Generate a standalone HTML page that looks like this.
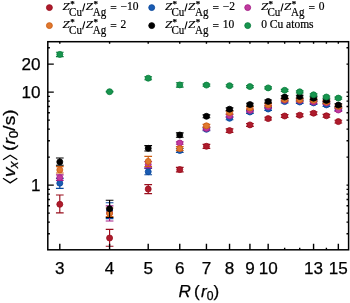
<!DOCTYPE html>
<html><head><meta charset="utf-8"><title>chart</title>
<style>html,body{margin:0;padding:0;background:#fff;}svg{display:block;}text{font-family:"Liberation Sans", sans-serif;fill:#000;stroke:#000;stroke-width:0.25px;}text.se{font-family:"Liberation Serif", serif;stroke-width:0.2px;}</style>
</head><body><div style="will-change:transform;width:350px;height:303px;background:#fff">
<svg width="350" height="303" viewBox="0 0 350 303">
<rect width="350" height="303" fill="#fff"/>
<circle cx="49.40" cy="7.60" r="2.95" fill="#ae1b2c" stroke="#990e1d" stroke-width="0.9"/>
<text transform="translate(62.60,10.00) scale(1.2,1)" class="se" style="font-size:10.8px;font-style:italic">Z</text>
<text x="70.30" y="7.30" class="se" style="font-size:9px;font-weight:bold">*</text>
<text transform="translate(69.10,15.90) scale(0.92,1)" class="se" style="font-size:12px">Cu</text>
<line x1="84.80" y1="3.40" x2="82.60" y2="11.30" stroke="#000" stroke-width="1.1"/>
<text transform="translate(85.70,10.00) scale(1.2,1)" class="se" style="font-size:10.8px;font-style:italic">Z</text>
<text x="93.40" y="7.30" class="se" style="font-size:9px;font-weight:bold">*</text>
<text transform="translate(92.70,15.90) scale(0.92,1)" class="se" style="font-size:12px">Ag</text>
<text x="110.20" y="11.90" class="se" style="font-size:11.5px">=</text>
<text x="120.40" y="10.20" class="se" style="font-size:11.5px">−10</text>
<circle cx="151.70" cy="7.60" r="2.95" fill="#1a5cb3" stroke="#0a489c" stroke-width="0.9"/>
<text transform="translate(164.90,10.00) scale(1.2,1)" class="se" style="font-size:10.8px;font-style:italic">Z</text>
<text x="172.60" y="7.30" class="se" style="font-size:9px;font-weight:bold">*</text>
<text transform="translate(171.40,15.90) scale(0.92,1)" class="se" style="font-size:12px">Cu</text>
<line x1="187.10" y1="3.40" x2="184.90" y2="11.30" stroke="#000" stroke-width="1.1"/>
<text transform="translate(188.00,10.00) scale(1.2,1)" class="se" style="font-size:10.8px;font-style:italic">Z</text>
<text x="195.70" y="7.30" class="se" style="font-size:9px;font-weight:bold">*</text>
<text transform="translate(195.00,15.90) scale(0.92,1)" class="se" style="font-size:12px">Ag</text>
<text x="212.50" y="11.90" class="se" style="font-size:11.5px">=</text>
<text x="222.70" y="10.20" class="se" style="font-size:11.5px">−2</text>
<circle cx="247.70" cy="7.60" r="2.95" fill="#c13a9f" stroke="#a31e86" stroke-width="0.9"/>
<text transform="translate(260.90,10.00) scale(1.2,1)" class="se" style="font-size:10.8px;font-style:italic">Z</text>
<text x="268.60" y="7.30" class="se" style="font-size:9px;font-weight:bold">*</text>
<text transform="translate(267.40,15.90) scale(0.92,1)" class="se" style="font-size:12px">Cu</text>
<line x1="283.10" y1="3.40" x2="280.90" y2="11.30" stroke="#000" stroke-width="1.1"/>
<text transform="translate(284.00,10.00) scale(1.2,1)" class="se" style="font-size:10.8px;font-style:italic">Z</text>
<text x="291.70" y="7.30" class="se" style="font-size:9px;font-weight:bold">*</text>
<text transform="translate(291.00,15.90) scale(0.92,1)" class="se" style="font-size:12px">Ag</text>
<text x="308.50" y="11.90" class="se" style="font-size:11.5px">=</text>
<text x="318.70" y="10.20" class="se" style="font-size:11.5px">0</text>
<circle cx="49.40" cy="25.60" r="2.95" fill="#e0782e" stroke="#cc5e14" stroke-width="0.9"/>
<text transform="translate(62.60,28.00) scale(1.2,1)" class="se" style="font-size:10.8px;font-style:italic">Z</text>
<text x="70.30" y="25.30" class="se" style="font-size:9px;font-weight:bold">*</text>
<text transform="translate(69.10,33.90) scale(0.92,1)" class="se" style="font-size:12px">Cu</text>
<line x1="84.80" y1="21.40" x2="82.60" y2="29.30" stroke="#000" stroke-width="1.1"/>
<text transform="translate(85.70,28.00) scale(1.2,1)" class="se" style="font-size:10.8px;font-style:italic">Z</text>
<text x="93.40" y="25.30" class="se" style="font-size:9px;font-weight:bold">*</text>
<text transform="translate(92.70,33.90) scale(0.92,1)" class="se" style="font-size:12px">Ag</text>
<text x="110.20" y="29.90" class="se" style="font-size:11.5px">=</text>
<text x="120.40" y="28.20" class="se" style="font-size:11.5px">2</text>
<circle cx="151.70" cy="25.60" r="2.95" fill="#000" stroke="#000" stroke-width="0.9"/>
<text transform="translate(164.90,28.00) scale(1.2,1)" class="se" style="font-size:10.8px;font-style:italic">Z</text>
<text x="172.60" y="25.30" class="se" style="font-size:9px;font-weight:bold">*</text>
<text transform="translate(171.40,33.90) scale(0.92,1)" class="se" style="font-size:12px">Cu</text>
<line x1="187.10" y1="21.40" x2="184.90" y2="29.30" stroke="#000" stroke-width="1.1"/>
<text transform="translate(188.00,28.00) scale(1.2,1)" class="se" style="font-size:10.8px;font-style:italic">Z</text>
<text x="195.70" y="25.30" class="se" style="font-size:9px;font-weight:bold">*</text>
<text transform="translate(195.00,33.90) scale(0.92,1)" class="se" style="font-size:12px">Ag</text>
<text x="212.50" y="29.90" class="se" style="font-size:11.5px">=</text>
<text x="222.70" y="28.20" class="se" style="font-size:11.5px">10</text>
<circle cx="247.70" cy="25.60" r="2.95" fill="#18954f" stroke="#0a7d3c" stroke-width="0.9"/>
<text x="261.20" y="27.80" class="se" style="font-size:11.5px">0 Cu atoms</text>
<path d="M59.80 195.00V212.90M55.95 195.00H63.65M55.95 212.90H63.65" stroke="#990e1d" stroke-width="1.15" fill="none"/>
<circle cx="59.80" cy="204.30" r="3.0" fill="#ae1b2c" stroke="#990e1d" stroke-width="0.8"/>
<path d="M109.59 229.30V246.20M105.74 229.30H113.44M105.74 246.20H113.44" stroke="#990e1d" stroke-width="1.15" fill="none"/>
<circle cx="109.59" cy="238.00" r="3.0" fill="#ae1b2c" stroke="#990e1d" stroke-width="0.8"/>
<path d="M148.21 184.60V193.60M144.36 184.60H152.06M144.36 193.60H152.06" stroke="#990e1d" stroke-width="1.15" fill="none"/>
<circle cx="148.21" cy="189.10" r="3.0" fill="#ae1b2c" stroke="#990e1d" stroke-width="0.8"/>
<path d="M179.76 167.30V171.90M175.91 167.30H183.61M175.91 171.90H183.61" stroke="#990e1d" stroke-width="1.15" fill="none"/>
<circle cx="179.76" cy="169.60" r="3.0" fill="#ae1b2c" stroke="#990e1d" stroke-width="0.8"/>
<path d="M206.44 144.30V148.30M202.59 144.30H210.29M202.59 148.30H210.29" stroke="#990e1d" stroke-width="1.15" fill="none"/>
<circle cx="206.44" cy="146.30" r="3.0" fill="#ae1b2c" stroke="#990e1d" stroke-width="0.8"/>
<path d="M229.55 128.90V132.30M225.70 128.90H233.40M225.70 132.30H233.40" stroke="#990e1d" stroke-width="1.15" fill="none"/>
<circle cx="229.55" cy="130.60" r="3.0" fill="#ae1b2c" stroke="#990e1d" stroke-width="0.8"/>
<path d="M249.93 123.50V126.30M246.08 123.50H253.78M246.08 126.30H253.78" stroke="#990e1d" stroke-width="1.15" fill="none"/>
<circle cx="249.93" cy="124.90" r="3.0" fill="#ae1b2c" stroke="#990e1d" stroke-width="0.8"/>
<path d="M268.17 117.20V120.00M264.32 117.20H272.02M264.32 120.00H272.02" stroke="#990e1d" stroke-width="1.15" fill="none"/>
<circle cx="268.17" cy="118.60" r="3.0" fill="#ae1b2c" stroke="#990e1d" stroke-width="0.8"/>
<path d="M284.66 114.60V117.40M280.81 114.60H288.51M280.81 117.40H288.51" stroke="#990e1d" stroke-width="1.15" fill="none"/>
<circle cx="284.66" cy="116.00" r="3.0" fill="#ae1b2c" stroke="#990e1d" stroke-width="0.8"/>
<path d="M299.72 113.80V116.60M295.87 113.80H303.57M295.87 116.60H303.57" stroke="#990e1d" stroke-width="1.15" fill="none"/>
<circle cx="299.72" cy="115.20" r="3.0" fill="#ae1b2c" stroke="#990e1d" stroke-width="0.8"/>
<path d="M313.57 111.80V114.60M309.72 111.80H317.42M309.72 114.60H317.42" stroke="#990e1d" stroke-width="1.15" fill="none"/>
<circle cx="313.57" cy="113.20" r="3.0" fill="#ae1b2c" stroke="#990e1d" stroke-width="0.8"/>
<path d="M326.40 114.40V117.20M322.55 114.40H330.25M322.55 117.20H330.25" stroke="#990e1d" stroke-width="1.15" fill="none"/>
<circle cx="326.40" cy="115.80" r="3.0" fill="#ae1b2c" stroke="#990e1d" stroke-width="0.8"/>
<path d="M338.34 120.20V123.00M334.49 120.20H342.19M334.49 123.00H342.19" stroke="#990e1d" stroke-width="1.15" fill="none"/>
<circle cx="338.34" cy="121.60" r="3.0" fill="#ae1b2c" stroke="#990e1d" stroke-width="0.8"/>
<path d="M59.80 178.30V188.30M55.95 178.30H63.65M55.95 188.30H63.65" stroke="#0a489c" stroke-width="1.15" fill="none"/>
<circle cx="59.80" cy="183.20" r="3.0" fill="#1a5cb3" stroke="#0a489c" stroke-width="0.8"/>
<path d="M109.59 202.70V218.60M105.74 202.70H113.44M105.74 218.60H113.44" stroke="#0a489c" stroke-width="1.15" fill="none"/>
<circle cx="109.59" cy="210.20" r="3.0" fill="#1a5cb3" stroke="#0a489c" stroke-width="0.8"/>
<path d="M148.21 168.30V174.70M144.36 168.30H152.06M144.36 174.70H152.06" stroke="#0a489c" stroke-width="1.15" fill="none"/>
<circle cx="148.21" cy="171.70" r="3.0" fill="#1a5cb3" stroke="#0a489c" stroke-width="0.8"/>
<path d="M179.76 148.50V152.50M175.91 148.50H183.61M175.91 152.50H183.61" stroke="#0a489c" stroke-width="1.15" fill="none"/>
<circle cx="179.76" cy="150.50" r="3.0" fill="#1a5cb3" stroke="#0a489c" stroke-width="0.8"/>
<path d="M206.44 127.90V130.70M202.59 127.90H210.29M202.59 130.70H210.29" stroke="#0a489c" stroke-width="1.15" fill="none"/>
<circle cx="206.44" cy="129.30" r="3.0" fill="#1a5cb3" stroke="#0a489c" stroke-width="0.8"/>
<path d="M229.55 116.90V119.70M225.70 116.90H233.40M225.70 119.70H233.40" stroke="#0a489c" stroke-width="1.15" fill="none"/>
<circle cx="229.55" cy="118.30" r="3.0" fill="#1a5cb3" stroke="#0a489c" stroke-width="0.8"/>
<path d="M249.93 110.60V113.40M246.08 110.60H253.78M246.08 113.40H253.78" stroke="#0a489c" stroke-width="1.15" fill="none"/>
<circle cx="249.93" cy="112.00" r="3.0" fill="#1a5cb3" stroke="#0a489c" stroke-width="0.8"/>
<path d="M268.17 107.60V110.40M264.32 107.60H272.02M264.32 110.40H272.02" stroke="#0a489c" stroke-width="1.15" fill="none"/>
<circle cx="268.17" cy="109.00" r="3.0" fill="#1a5cb3" stroke="#0a489c" stroke-width="0.8"/>
<path d="M284.66 100.20V103.00M280.81 100.20H288.51M280.81 103.00H288.51" stroke="#0a489c" stroke-width="1.15" fill="none"/>
<circle cx="284.66" cy="101.60" r="3.0" fill="#1a5cb3" stroke="#0a489c" stroke-width="0.8"/>
<path d="M299.72 100.60V103.40M295.87 100.60H303.57M295.87 103.40H303.57" stroke="#0a489c" stroke-width="1.15" fill="none"/>
<circle cx="299.72" cy="102.00" r="3.0" fill="#1a5cb3" stroke="#0a489c" stroke-width="0.8"/>
<path d="M313.57 101.50V104.30M309.72 101.50H317.42M309.72 104.30H317.42" stroke="#0a489c" stroke-width="1.15" fill="none"/>
<circle cx="313.57" cy="102.90" r="3.0" fill="#1a5cb3" stroke="#0a489c" stroke-width="0.8"/>
<path d="M326.40 103.50V106.30M322.55 103.50H330.25M322.55 106.30H330.25" stroke="#0a489c" stroke-width="1.15" fill="none"/>
<circle cx="326.40" cy="104.90" r="3.0" fill="#1a5cb3" stroke="#0a489c" stroke-width="0.8"/>
<path d="M338.34 107.60V110.40M334.49 107.60H342.19M334.49 110.40H342.19" stroke="#0a489c" stroke-width="1.15" fill="none"/>
<circle cx="338.34" cy="109.00" r="3.0" fill="#1a5cb3" stroke="#0a489c" stroke-width="0.8"/>
<path d="M59.80 174.80V180.40M55.95 174.80H63.65M55.95 180.40H63.65" stroke="#a31e86" stroke-width="1.15" fill="none"/>
<circle cx="59.80" cy="177.70" r="3.0" fill="#c13a9f" stroke="#a31e86" stroke-width="0.8"/>
<path d="M109.59 205.90V221.00M105.74 205.90H113.44M105.74 221.00H113.44" stroke="#a31e86" stroke-width="1.15" fill="none"/>
<circle cx="109.59" cy="213.00" r="3.0" fill="#c13a9f" stroke="#a31e86" stroke-width="0.8"/>
<path d="M148.21 161.60V167.80M144.36 161.60H152.06M144.36 167.80H152.06" stroke="#a31e86" stroke-width="1.15" fill="none"/>
<circle cx="148.21" cy="164.60" r="3.0" fill="#c13a9f" stroke="#a31e86" stroke-width="0.8"/>
<path d="M179.76 141.80V144.20M175.91 141.80H183.61M175.91 144.20H183.61" stroke="#a31e86" stroke-width="1.15" fill="none"/>
<circle cx="179.76" cy="143.00" r="3.0" fill="#c13a9f" stroke="#a31e86" stroke-width="0.8"/>
<path d="M206.44 127.00V129.80M202.59 127.00H210.29M202.59 129.80H210.29" stroke="#a31e86" stroke-width="1.15" fill="none"/>
<circle cx="206.44" cy="128.40" r="3.0" fill="#c13a9f" stroke="#a31e86" stroke-width="0.8"/>
<path d="M229.55 114.40V117.20M225.70 114.40H233.40M225.70 117.20H233.40" stroke="#a31e86" stroke-width="1.15" fill="none"/>
<circle cx="229.55" cy="115.80" r="3.0" fill="#c13a9f" stroke="#a31e86" stroke-width="0.8"/>
<path d="M249.93 109.00V111.80M246.08 109.00H253.78M246.08 111.80H253.78" stroke="#a31e86" stroke-width="1.15" fill="none"/>
<circle cx="249.93" cy="110.40" r="3.0" fill="#c13a9f" stroke="#a31e86" stroke-width="0.8"/>
<path d="M268.17 105.40V108.20M264.32 105.40H272.02M264.32 108.20H272.02" stroke="#a31e86" stroke-width="1.15" fill="none"/>
<circle cx="268.17" cy="106.80" r="3.0" fill="#c13a9f" stroke="#a31e86" stroke-width="0.8"/>
<path d="M284.66 98.90V101.70M280.81 98.90H288.51M280.81 101.70H288.51" stroke="#a31e86" stroke-width="1.15" fill="none"/>
<circle cx="284.66" cy="100.30" r="3.0" fill="#c13a9f" stroke="#a31e86" stroke-width="0.8"/>
<path d="M299.72 99.20V102.00M295.87 99.20H303.57M295.87 102.00H303.57" stroke="#a31e86" stroke-width="1.15" fill="none"/>
<circle cx="299.72" cy="100.60" r="3.0" fill="#c13a9f" stroke="#a31e86" stroke-width="0.8"/>
<path d="M313.57 100.60V103.40M309.72 100.60H317.42M309.72 103.40H317.42" stroke="#a31e86" stroke-width="1.15" fill="none"/>
<circle cx="313.57" cy="102.00" r="3.0" fill="#c13a9f" stroke="#a31e86" stroke-width="0.8"/>
<path d="M326.40 101.60V104.40M322.55 101.60H330.25M322.55 104.40H330.25" stroke="#a31e86" stroke-width="1.15" fill="none"/>
<circle cx="326.40" cy="103.00" r="3.0" fill="#c13a9f" stroke="#a31e86" stroke-width="0.8"/>
<path d="M338.34 108.60V111.40M334.49 108.60H342.19M334.49 111.40H342.19" stroke="#a31e86" stroke-width="1.15" fill="none"/>
<circle cx="338.34" cy="110.00" r="3.0" fill="#c13a9f" stroke="#a31e86" stroke-width="0.8"/>
<path d="M59.80 166.60V173.00M55.95 166.60H63.65M55.95 173.00H63.65" stroke="#cc5e14" stroke-width="1.15" fill="none"/>
<circle cx="59.80" cy="169.90" r="3.0" fill="#e0782e" stroke="#cc5e14" stroke-width="0.8"/>
<path d="M109.59 208.00V216.60M105.74 208.00H113.44M105.74 216.60H113.44" stroke="#cc5e14" stroke-width="1.15" fill="none"/>
<circle cx="109.59" cy="213.30" r="3.0" fill="#e0782e" stroke="#cc5e14" stroke-width="0.8"/>
<path d="M148.21 156.30V166.50M144.36 156.30H152.06M144.36 166.50H152.06" stroke="#cc5e14" stroke-width="1.15" fill="none"/>
<circle cx="148.21" cy="161.40" r="3.0" fill="#e0782e" stroke="#cc5e14" stroke-width="0.8"/>
<path d="M179.76 146.60V150.60M175.91 146.60H183.61M175.91 150.60H183.61" stroke="#cc5e14" stroke-width="1.15" fill="none"/>
<circle cx="179.76" cy="148.60" r="3.0" fill="#e0782e" stroke="#cc5e14" stroke-width="0.8"/>
<path d="M206.44 124.40V127.20M202.59 124.40H210.29M202.59 127.20H210.29" stroke="#cc5e14" stroke-width="1.15" fill="none"/>
<circle cx="206.44" cy="125.80" r="3.0" fill="#e0782e" stroke="#cc5e14" stroke-width="0.8"/>
<path d="M229.55 111.20V114.00M225.70 111.20H233.40M225.70 114.00H233.40" stroke="#cc5e14" stroke-width="1.15" fill="none"/>
<circle cx="229.55" cy="112.60" r="3.0" fill="#e0782e" stroke="#cc5e14" stroke-width="0.8"/>
<path d="M249.93 106.60V109.40M246.08 106.60H253.78M246.08 109.40H253.78" stroke="#cc5e14" stroke-width="1.15" fill="none"/>
<circle cx="249.93" cy="108.00" r="3.0" fill="#e0782e" stroke="#cc5e14" stroke-width="0.8"/>
<path d="M268.17 103.50V106.30M264.32 103.50H272.02M264.32 106.30H272.02" stroke="#cc5e14" stroke-width="1.15" fill="none"/>
<circle cx="268.17" cy="104.90" r="3.0" fill="#e0782e" stroke="#cc5e14" stroke-width="0.8"/>
<path d="M284.66 98.10V100.90M280.81 98.10H288.51M280.81 100.90H288.51" stroke="#cc5e14" stroke-width="1.15" fill="none"/>
<circle cx="284.66" cy="99.50" r="3.0" fill="#e0782e" stroke="#cc5e14" stroke-width="0.8"/>
<path d="M299.72 98.40V101.20M295.87 98.40H303.57M295.87 101.20H303.57" stroke="#cc5e14" stroke-width="1.15" fill="none"/>
<circle cx="299.72" cy="99.80" r="3.0" fill="#e0782e" stroke="#cc5e14" stroke-width="0.8"/>
<path d="M313.57 98.90V101.70M309.72 98.90H317.42M309.72 101.70H317.42" stroke="#cc5e14" stroke-width="1.15" fill="none"/>
<circle cx="313.57" cy="100.30" r="3.0" fill="#e0782e" stroke="#cc5e14" stroke-width="0.8"/>
<path d="M326.40 100.60V103.40M322.55 100.60H330.25M322.55 103.40H330.25" stroke="#cc5e14" stroke-width="1.15" fill="none"/>
<circle cx="326.40" cy="102.00" r="3.0" fill="#e0782e" stroke="#cc5e14" stroke-width="0.8"/>
<path d="M338.34 105.00V107.80M334.49 105.00H342.19M334.49 107.80H342.19" stroke="#cc5e14" stroke-width="1.15" fill="none"/>
<circle cx="338.34" cy="106.40" r="3.0" fill="#e0782e" stroke="#cc5e14" stroke-width="0.8"/>
<path d="M59.80 158.00V165.20M55.95 158.00H63.65M55.95 165.20H63.65" stroke="#000" stroke-width="1.15" fill="none"/>
<circle cx="59.80" cy="161.90" r="3.0" fill="#000" stroke="#000" stroke-width="0.8"/>
<path d="M109.59 200.20V217.50M105.74 200.20H113.44M105.74 217.50H113.44" stroke="#000" stroke-width="1.15" fill="none"/>
<circle cx="109.59" cy="208.80" r="3.0" fill="#000" stroke="#000" stroke-width="0.8"/>
<path d="M148.21 145.60V151.00M144.36 145.60H152.06M144.36 151.00H152.06" stroke="#000" stroke-width="1.15" fill="none"/>
<circle cx="148.21" cy="148.30" r="3.0" fill="#000" stroke="#000" stroke-width="0.8"/>
<path d="M179.76 132.80V137.20M175.91 132.80H183.61M175.91 137.20H183.61" stroke="#000" stroke-width="1.15" fill="none"/>
<circle cx="179.76" cy="135.00" r="3.0" fill="#000" stroke="#000" stroke-width="0.8"/>
<path d="M206.44 114.90V117.70M202.59 114.90H210.29M202.59 117.70H210.29" stroke="#000" stroke-width="1.15" fill="none"/>
<circle cx="206.44" cy="116.30" r="3.0" fill="#000" stroke="#000" stroke-width="0.8"/>
<path d="M229.55 107.80V110.60M225.70 107.80H233.40M225.70 110.60H233.40" stroke="#000" stroke-width="1.15" fill="none"/>
<circle cx="229.55" cy="109.20" r="3.0" fill="#000" stroke="#000" stroke-width="0.8"/>
<path d="M249.93 103.20V106.00M246.08 103.20H253.78M246.08 106.00H253.78" stroke="#000" stroke-width="1.15" fill="none"/>
<circle cx="249.93" cy="104.60" r="3.0" fill="#000" stroke="#000" stroke-width="0.8"/>
<path d="M268.17 100.00V102.80M264.32 100.00H272.02M264.32 102.80H272.02" stroke="#000" stroke-width="1.15" fill="none"/>
<circle cx="268.17" cy="101.40" r="3.0" fill="#000" stroke="#000" stroke-width="0.8"/>
<path d="M284.66 95.70V98.50M280.81 95.70H288.51M280.81 98.50H288.51" stroke="#000" stroke-width="1.15" fill="none"/>
<circle cx="284.66" cy="97.10" r="3.0" fill="#000" stroke="#000" stroke-width="0.8"/>
<path d="M299.72 95.20V98.00M295.87 95.20H303.57M295.87 98.00H303.57" stroke="#000" stroke-width="1.15" fill="none"/>
<circle cx="299.72" cy="96.60" r="3.0" fill="#000" stroke="#000" stroke-width="0.8"/>
<path d="M313.57 96.80V99.60M309.72 96.80H317.42M309.72 99.60H317.42" stroke="#000" stroke-width="1.15" fill="none"/>
<circle cx="313.57" cy="98.20" r="3.0" fill="#000" stroke="#000" stroke-width="0.8"/>
<path d="M326.40 99.00V101.80M322.55 99.00H330.25M322.55 101.80H330.25" stroke="#000" stroke-width="1.15" fill="none"/>
<circle cx="326.40" cy="100.40" r="3.0" fill="#000" stroke="#000" stroke-width="0.8"/>
<path d="M338.34 103.70V106.50M334.49 103.70H342.19M334.49 106.50H342.19" stroke="#000" stroke-width="1.15" fill="none"/>
<circle cx="338.34" cy="105.10" r="3.0" fill="#000" stroke="#000" stroke-width="0.8"/>
<path d="M59.80 52.20V56.60M55.95 52.20H63.65M55.95 56.60H63.65" stroke="#0a7d3c" stroke-width="1.15" fill="none"/>
<circle cx="59.80" cy="54.40" r="3.0" fill="#18954f" stroke="#0a7d3c" stroke-width="0.8"/>
<path d="M109.59 91.40V92.00M105.74 91.40H113.44M105.74 92.00H113.44" stroke="#0a7d3c" stroke-width="1.15" fill="none"/>
<circle cx="109.59" cy="91.70" r="3.0" fill="#18954f" stroke="#0a7d3c" stroke-width="0.8"/>
<path d="M148.21 76.70V79.70M144.36 76.70H152.06M144.36 79.70H152.06" stroke="#0a7d3c" stroke-width="1.15" fill="none"/>
<circle cx="148.21" cy="78.20" r="3.0" fill="#18954f" stroke="#0a7d3c" stroke-width="0.8"/>
<path d="M179.76 82.70V87.10M175.91 82.70H183.61M175.91 87.10H183.61" stroke="#0a7d3c" stroke-width="1.15" fill="none"/>
<circle cx="179.76" cy="84.90" r="3.0" fill="#18954f" stroke="#0a7d3c" stroke-width="0.8"/>
<path d="M206.44 84.10V86.10M202.59 84.10H210.29M202.59 86.10H210.29" stroke="#0a7d3c" stroke-width="1.15" fill="none"/>
<circle cx="206.44" cy="85.10" r="3.0" fill="#18954f" stroke="#0a7d3c" stroke-width="0.8"/>
<path d="M229.55 84.70V86.70M225.70 84.70H233.40M225.70 86.70H233.40" stroke="#0a7d3c" stroke-width="1.15" fill="none"/>
<circle cx="229.55" cy="85.70" r="3.0" fill="#18954f" stroke="#0a7d3c" stroke-width="0.8"/>
<path d="M249.93 85.60V87.60M246.08 85.60H253.78M246.08 87.60H253.78" stroke="#0a7d3c" stroke-width="1.15" fill="none"/>
<circle cx="249.93" cy="86.60" r="3.0" fill="#18954f" stroke="#0a7d3c" stroke-width="0.8"/>
<path d="M268.17 86.90V88.90M264.32 86.90H272.02M264.32 88.90H272.02" stroke="#0a7d3c" stroke-width="1.15" fill="none"/>
<circle cx="268.17" cy="87.90" r="3.0" fill="#18954f" stroke="#0a7d3c" stroke-width="0.8"/>
<path d="M284.66 89.30V91.30M280.81 89.30H288.51M280.81 91.30H288.51" stroke="#0a7d3c" stroke-width="1.15" fill="none"/>
<circle cx="284.66" cy="90.30" r="3.0" fill="#18954f" stroke="#0a7d3c" stroke-width="0.8"/>
<path d="M299.72 90.80V92.80M295.87 90.80H303.57M295.87 92.80H303.57" stroke="#0a7d3c" stroke-width="1.15" fill="none"/>
<circle cx="299.72" cy="91.80" r="3.0" fill="#18954f" stroke="#0a7d3c" stroke-width="0.8"/>
<path d="M313.57 93.80V95.80M309.72 93.80H317.42M309.72 95.80H317.42" stroke="#0a7d3c" stroke-width="1.15" fill="none"/>
<circle cx="313.57" cy="94.80" r="3.0" fill="#18954f" stroke="#0a7d3c" stroke-width="0.8"/>
<path d="M326.40 96.00V98.00M322.55 96.00H330.25M322.55 98.00H330.25" stroke="#0a7d3c" stroke-width="1.15" fill="none"/>
<circle cx="326.40" cy="97.00" r="3.0" fill="#18954f" stroke="#0a7d3c" stroke-width="0.8"/>
<path d="M338.34 97.10V99.10M334.49 97.10H342.19M334.49 99.10H342.19" stroke="#0a7d3c" stroke-width="1.15" fill="none"/>
<circle cx="338.34" cy="98.10" r="3.0" fill="#18954f" stroke="#0a7d3c" stroke-width="0.8"/>
<rect x="47.80" y="41.70" width="300.80" height="208.10" fill="none" stroke="#000" stroke-width="1.50"/>
<path d="M59.80 249.80v-6.0M59.80 41.70v2.1M109.59 249.80v-6.0M109.59 41.70v2.1M148.21 249.80v-6.0M148.21 41.70v2.1M179.76 249.80v-6.0M179.76 41.70v2.1M206.44 249.80v-6.0M206.44 41.70v2.1M229.55 249.80v-6.0M229.55 41.70v2.1M249.93 249.80v-6.0M249.93 41.70v2.1M268.17 249.80v-6.0M268.17 41.70v2.1M313.57 249.80v-6.0M313.57 41.70v2.1M338.34 249.80v-6.0M338.34 41.70v2.1M284.66 249.80v-2.1M284.66 41.70v2.1M299.72 249.80v-2.1M299.72 41.70v2.1M326.40 249.80v-2.1M326.40 41.70v2.1M47.80 185.15h6.0M348.60 185.15h-2.1M47.80 92.15h6.0M348.60 92.15h-2.1M47.80 64.15h6.0M348.60 64.15h-2.1M47.80 233.78h2.1M348.60 233.78h-2.1M47.80 222.16h2.1M348.60 222.16h-2.1M47.80 213.15h2.1M348.60 213.15h-2.1M47.80 205.78h2.1M348.60 205.78h-2.1M47.80 199.56h2.1M348.60 199.56h-2.1M47.80 194.16h2.1M348.60 194.16h-2.1M47.80 189.41h2.1M348.60 189.41h-2.1M47.80 157.15h2.1M348.60 157.15h-2.1M47.80 140.78h2.1M348.60 140.78h-2.1M47.80 129.16h2.1M348.60 129.16h-2.1M47.80 120.15h2.1M348.60 120.15h-2.1M47.80 112.78h2.1M348.60 112.78h-2.1M47.80 106.56h2.1M348.60 106.56h-2.1M47.80 101.16h2.1M348.60 101.16h-2.1M47.80 96.41h2.1M348.60 96.41h-2.1M47.80 47.78h2.1M348.60 47.78h-2.1" stroke="#000" stroke-width="1.4" fill="none"/>
<text x="59.80" y="274.4" text-anchor="middle" style="font-size:17.1px">3</text>
<text x="109.59" y="274.4" text-anchor="middle" style="font-size:17.1px">4</text>
<text x="148.21" y="274.4" text-anchor="middle" style="font-size:17.1px">5</text>
<text x="179.76" y="274.4" text-anchor="middle" style="font-size:17.1px">6</text>
<text x="206.44" y="274.4" text-anchor="middle" style="font-size:17.1px">7</text>
<text x="229.55" y="274.4" text-anchor="middle" style="font-size:17.1px">8</text>
<text x="249.93" y="274.4" text-anchor="middle" style="font-size:17.1px">9</text>
<text x="268.17" y="274.4" text-anchor="middle" style="font-size:17.1px">10</text>
<text x="313.57" y="274.4" text-anchor="middle" style="font-size:17.1px">13</text>
<text x="338.34" y="274.4" text-anchor="middle" style="font-size:17.1px">15</text>
<text x="40.4" y="190.65" text-anchor="end" style="font-size:17.1px">1</text>
<text x="40.4" y="97.65" text-anchor="end" style="font-size:17.1px">10</text>
<text x="40.4" y="69.65" text-anchor="end" style="font-size:17.1px">20</text>
<text x="178.4" y="296.8" style="font-size:17.1px"><tspan font-style="italic">R</tspan> <tspan dx="-1.6">(</tspan><tspan dx="1.4" font-style="italic">r</tspan><tspan dy="3" style="font-size:12.2px">0</tspan><tspan dy="-3">)</tspan></text>
<text transform="translate(15.4,176.9) rotate(-90) scale(1.10,1)" style="font-size:17.1px"><tspan font-style="italic">v</tspan><tspan dy="3" dx="-0.7" font-style="italic" style="font-size:12.2px">x</tspan></text>
<path d="M3.0 178.3L10.15 182.9L17.3 178.3M3.0 159.7L10.15 155.3L17.3 159.7" fill="none" stroke="#000" stroke-width="1.3"/>
<text transform="translate(15.4,151.0) rotate(-90) scale(1.12,1)" style="font-size:17.1px">(<tspan font-style="italic">r</tspan><tspan dy="3" style="font-size:12.2px">0</tspan><tspan dy="-3">/s)</tspan></text>
</svg></div></body></html>
